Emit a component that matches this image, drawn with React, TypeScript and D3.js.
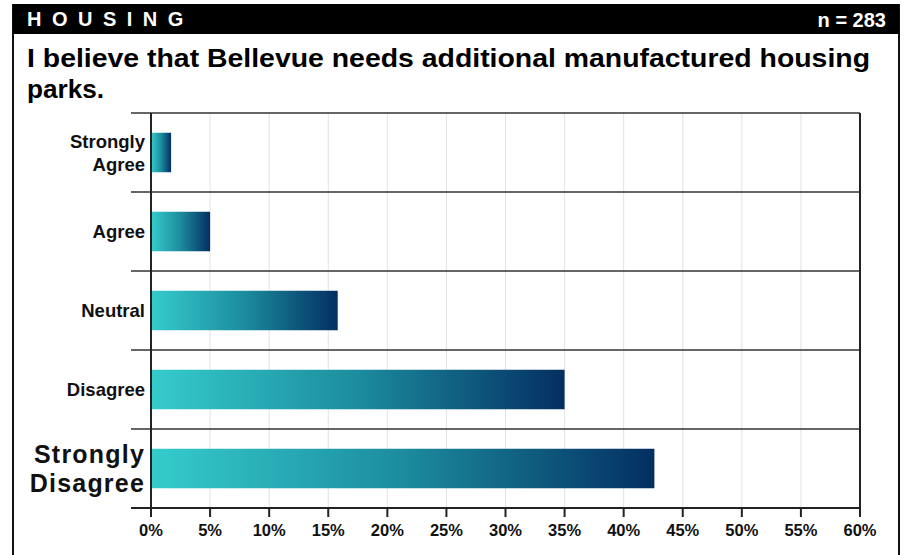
import React from "react";
import * as d3 from "d3";

const categories = ["Strongly Agree", "Agree", "Neutral", "Disagree", "Strongly Disagree"];
const values = [1.7, 5.0, 15.8, 35.0, 42.6];
const xTicks = [0, 5, 10, 15, 20, 25, 30, 35, 40, 45, 50, 55, 60];
const headerLabel = "HOUSING";
const nLabel = "n = 283";
const titleLines = ["I believe that Bellevue needs additional manufactured housing", "parks."];

const W = 909, H = 555;
const FONT = "'Liberation Sans', Arial, Helvetica, sans-serif";

export default function App() {
  const left = 151, right = 860, top = 113, bottom = 508;
  const x = d3.scaleLinear().domain([0, 60]).range([left, right]);
  const y = d3.scaleBand().domain(categories).range([top, bottom]).paddingInner(0).paddingOuter(0);
  const bw = y.bandwidth();
  const barH = bw * 0.5;
  const labelSize = (c: string) => (c === "Strongly Disagree" ? 25 : 18.5);

  return (
    <svg width={W} height={H} style={{ position: "absolute", left: 0, top: 0, background: "#fff" }} fontFamily={FONT}>
      <defs>
        <linearGradient id="barGrad" x1="0" x2="1" y1="0" y2="0">
          <stop offset="0%" stopColor="#35cccc" />
          <stop offset="50%" stopColor="#1c8c9e" />
          <stop offset="100%" stopColor="#032f62" />
        </linearGradient>
      </defs>
      <rect x={0} y={0} width={W} height={H} fill="#fff" />
      {/* outer frame */}
      <line x1={13} x2={13} y1={4} y2={H} stroke="#111" strokeWidth={2} />
      <line x1={899} x2={899} y1={4} y2={H} stroke="#111" strokeWidth={2} />
      {/* header bar */}
      <rect x={13} y={4} width={886} height={30} fill="#000" />
      <text x={27} y={26} fill="#fff" fontSize={20} fontWeight="bold" letterSpacing={10.5}>{headerLabel}</text>
      <text x={886} y={27} fill="#fff" fontSize={20} fontWeight="bold" textAnchor="end">{nLabel}</text>
      {/* title */}
      <text x={27} y={67} fontSize={26} fontWeight="bold" fill="#000" textLength={843} lengthAdjust="spacingAndGlyphs">{titleLines[0]}</text>
      <text x={27} y={98} fontSize={26} fontWeight="bold" fill="#000" textLength={77} lengthAdjust="spacingAndGlyphs">{titleLines[1]}</text>

      {/* gridlines */}
      {xTicks.slice(1, -1).map((t) => (
        <line key={"g" + t} x1={x(t)} x2={x(t)} y1={top} y2={bottom} stroke="#e2e2e2" strokeWidth={1} />
      ))}
      {/* bars */}
      {categories.map((c, i) => (
        <rect key={c} x={x(0)} y={(y(c) as number) + (bw - barH) / 2} width={x(values[i]) - x(0)} height={barH} fill="url(#barGrad)" />
      ))}
      {/* row separators */}
      {categories.map((c) => (
        <line key={"s" + c} x1={131} x2={right} y1={y(c) as number} y2={y(c) as number} stroke="#333" strokeWidth={1.6} />
      ))}
      <line x1={131} x2={right} y1={bottom} y2={bottom} stroke="#222" strokeWidth={2} />
      <line x1={left} x2={left} y1={top} y2={bottom + 9} stroke="#222" strokeWidth={2} />
      <line x1={right} x2={right} y1={top} y2={bottom + 9} stroke="#222" strokeWidth={2} />
      {/* ticks */}
      {xTicks.map((t) => (
        <g key={"t" + t}>
          <line x1={x(t)} x2={x(t)} y1={bottom} y2={bottom + 9} stroke="#222" strokeWidth={2} />
          <text x={x(t)} y={536} textAnchor="middle" fontSize={16.5} fontWeight="bold" fill="#111">{t + "%"}</text>
        </g>
      ))}
      {/* category labels */}
      {categories.map((c) => {
        const cy = (y(c) as number) + bw / 2;
        const fs = labelSize(c);
        const words = c.startsWith("Strongly") ? ["Strongly", c.replace("Strongly ", "")] : [c];
        const lh = c === "Strongly Disagree" ? 29 : 23;
        const startY = cy - ((words.length - 1) * lh) / 2 + fs * 0.36;
        return (
          <text key={"l" + c} textAnchor="end" fontSize={fs} fontWeight="bold" fill="#111" letterSpacing={c === "Strongly Disagree" ? 1.2 : 0}>
            {words.map((w, k) => (
              <tspan key={k} x={145} y={startY + k * lh}>{w}</tspan>
            ))}
          </text>
        );
      })}
    </svg>
  );
}
